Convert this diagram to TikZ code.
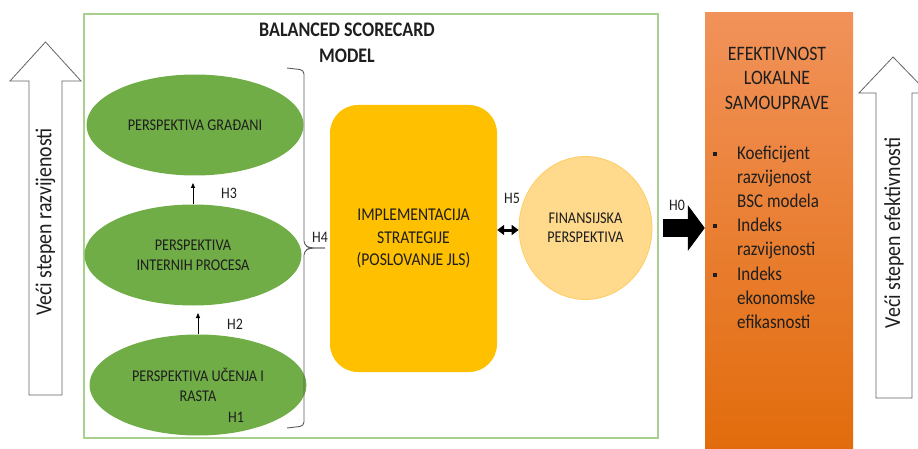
\documentclass[tikz,border=0pt]{standalone}
\usepackage{fontspec}
\setmainfont{Carlito}[FakeStretch=0.87]
\usetikzlibrary{arrows.meta,shapes.geometric}
\definecolor{frameG}{RGB}{169,209,142}
\definecolor{ellG}{RGB}{112,173,71}
\definecolor{implY}{RGB}{255,192,0}
\definecolor{finF}{RGB}{255,217,140}
\definecolor{finD}{RGB}{255,205,100}
\definecolor{orTop}{RGB}{241,146,90}
\definecolor{orBot}{RGB}{226,108,12}
\definecolor{txtD}{RGB}{30,30,30}
\definecolor{arrG}{RGB}{100,100,100}
\definecolor{braceG}{RGB}{90,90,90}
\begin{document}
\begin{tikzpicture}[x=1pt,y=-1pt,
  persp/.style={ellipse, fill=ellG, inner sep=0pt, minimum width=217pt, minimum height=101pt,
    align=center, text=txtD, font=\fontsize{16.4}{19.5}\selectfont},
  hlabel/.style={text=txtD, font=\fontsize{16}{18}\selectfont, inner sep=0pt},
  hollow/.style={draw=arrG, fill=white, line width=0.8pt, line join=miter},
  upar/.style={-{Triangle[length=5pt,width=4pt]}, line width=0.8pt, black}
]
\useasboundingbox (0,0) rectangle (918,449);

% left hollow arrow
\draw[hollow] (45.5,42) -- (81,81) -- (62,81) -- (62,395) -- (29,395) -- (29,81) -- (10,81) -- cycle;
\node[rotate=90, font=\fontsize{22.8}{24}\selectfont, text=txtD] (leftlab) at (45.5,222) {Veći stepen razvijenosti};

% frame
\draw[frameG, line width=1.2pt] (84,14) rectangle (658,438);
\node[font=\bfseries\fontsize{20.7}{26}\selectfont, align=center, text=txtD] (title) at (347,43) {BALANCED SCORECARD\\MODEL};

% ellipses
\node[persp] (e1) at (195,125) {PERSPEKTIVA GRAĐANI};
\node[persp] (e2) at (193,255) {PERSPEKTIVA\\INTERNIH PROCESA};
\node[persp] (e3) at (198,385) {PERSPEKTIVA UČENJA I\\RASTA};
\node[hlabel] (h1) at (236,417) {H1};

\coordinate (t3) at (193,183);
\coordinate (t2) at (198,313);
\draw[upar] (e2.north) -- (t3);
\draw[upar] (e3.north) -- (t2);
\node[hlabel] (h3) at (229,193) {H3};
\node[hlabel] (h2) at (235,324) {H2};

% brace
\coordinate (bt) at (287,68);
\coordinate (bb) at (287,428);
\coordinate (bm) at (325,248);
\draw[braceG, line width=0.9pt, rounded corners=4pt]
  (bt) -- (304,70) -- (304,245) -- (310,248) -- (bm);
\draw[braceG, line width=0.9pt, rounded corners=4pt]
  (bb) -- (304,426) -- (304,251) -- (310,248) -- (bm);
\node[hlabel] (h4) at (320,237) {H4};

% implementation
\node[rectangle, rounded corners=28pt, fill=implY, minimum width=167pt, minimum height=267pt,
  align=center, text=txtD, font=\fontsize{18}{22.5}\selectfont, inner sep=0pt] (impl) at (413.5,238.5)
  {IMPLEMENTACIJA\\STRATEGIJE\\(POSLOVANJE JLS)};

% financial
\node[ellipse, fill=finF, draw=finD, line width=0.8pt, minimum width=133pt, minimum height=143pt,
  inner sep=0pt, align=center, text=txtD, font=\fontsize{16.4}{19}\selectfont] (fin) at (585.5,228)
  {FINANSIJSKA\\PERSPEKTIVA};

\draw[line width=3pt, {Triangle[length=7pt,width=10pt]}-{Triangle[length=7pt,width=10pt]}]
  (impl.east |- fin.west) ++(0,2) coordinate (da) (da) -- (fin.west |- da);
\node[hlabel] (h5) at (512,198) {H5};

% orange box
\node[rectangle, top color=orTop, bottom color=orBot, minimum width=148pt, minimum height=436pt,
  inner sep=0pt] (ef) at (779,231) {};
\node[align=center, text=txtD, font=\fontsize{20.5}{24.5}\selectfont] (efh) at (777,78)
  {EFEKTIVNOST\\LOKALNE\\SAMOUPRAVE};
\node[anchor=north west, inner sep=0pt, text=txtD, font=\fontsize{19.5}{24.2}\selectfont] (eflist) at (713,142)
  {\begin{tabular}{@{}l@{\hspace{20pt}}l@{}}
   \rule[3.5pt]{4pt}{4pt} & Koeficijent\\
   & razvijenost\\
   & BSC modela\\
   \rule[3.5pt]{4pt}{4pt} & Indeks\\
   & razvijenosti\\
   \rule[3.5pt]{4pt}{4pt} & Indeks\\
   & ekonomske\\
   & efikasnosti
   \end{tabular}};

% H0 arrow
\draw[line width=17pt, -{Triangle[length=17pt,width=45pt]}, shorten <=11pt]
  (fin.east) -- (fin.east -| ef.west);
\node[hlabel] (h0) at (677,205) {H0};

% right hollow arrow
\draw[hollow] (893,57) -- (928,93) -- (912,93) -- (912,398) -- (876,398) -- (876,93) -- (859,93) -- cycle;
\node[rotate=90, font=\fontsize{22.8}{24}\selectfont, text=txtD] (rightlab) at (894,233) {Veći stepen efektivnosti};
\end{tikzpicture}
\end{document}
